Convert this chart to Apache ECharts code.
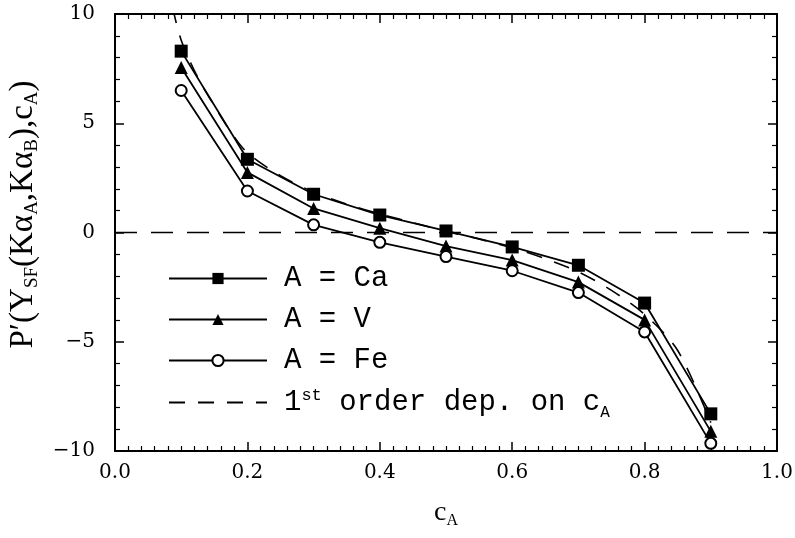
<!DOCTYPE html>
<html><head><meta charset="utf-8">
<script src="https://cdn.jsdelivr.net/npm/echarts@6/dist/echarts.min.js"></script>
<style>html,body{margin:0;padding:0;background:#fff}#c{width:795px;height:538px}</style>
</head><body><div id="c"></div>
<script>
var cA = [0.1, 0.2, 0.3, 0.4, 0.5, 0.6, 0.7, 0.8, 0.9];
var yCa = [8.3, 3.35, 1.75, 0.8, 0.07, -0.66, -1.5, -3.23, -8.3];
var yV  = [7.55, 2.75, 1.1, 0.2, -0.62, -1.26, -2.27, -4.0, -9.1];
var yFe = [6.5, 1.9, 0.35, -0.45, -1.1, -1.75, -2.75, -4.55, -9.65];
var dashX = [0.087, 0.1, 0.125, 0.15, 0.175, 0.2, 0.25, 0.3, 0.35, 0.4, 0.45, 0.5, 0.55, 0.6, 0.65, 0.7, 0.75, 0.8, 0.85, 0.9];
var dashY = [10.3, 8.8, 7.1, 5.8, 4.6, 3.65, 2.6, 1.85, 1.3, 0.85, 0.45, 0.05, -0.3, -0.7, -1.2, -1.8, -2.65, -3.75, -5.4, -8.7];
var xTicks = [0.0, 0.2, 0.4, 0.6, 0.8, 1.0];
var yTicks = [-10, -5, 0, 5, 10];
var names = ['A = Ca', 'A = V', 'A = Fe', '1st order dep. on cA'];

function pairs(xs, ys){ return xs.map(function(x,i){ return [x, ys[i]]; }); }

var chart = echarts.init(document.getElementById('c'), null, {renderer:'canvas'});
var axisCommon = {
  type:'value',
  axisLine:{show:true, onZero:false, lineStyle:{color:'#000', width:2}},
  axisTick:{show:true, inside:true, length:9, lineStyle:{color:'#000', width:1.5}},
  splitLine:{show:false},
  minorSplitLine:{show:false}
};
function mk(extra){ return Object.assign({}, JSON.parse(JSON.stringify(axisCommon)), extra); }

var labelFont = {fontFamily:'DejaVu Serif', fontSize:20, color:'#000'};
var serif = 'Liberation Serif';

chart.setOption({
  animation:false,
  backgroundColor:'#fff',
  grid:{left:115, right:18, top:14, bottom:87, containLabel:false, outerBoundsMode:'none'},
  xAxis:[
    mk({min:xTicks[0], max:xTicks[xTicks.length-1], interval:0.2, position:'bottom',
        minorTick:{show:true, splitNumber:10, length:5, lineStyle:{color:'#000', width:1.2}},
        axisLabel:Object.assign({margin:12, formatter:function(v){return v.toFixed(1);}}, labelFont),
        name:'c{sub|A}', nameLocation:'middle', nameGap:46,
        nameTextStyle:{fontFamily:serif, fontSize:28, color:'#000',
          rich:{sub:{fontFamily:serif, fontSize:16, padding:[16,0,0,0], color:'#000'}}}}),
    mk({min:0, max:1, interval:0.2, position:'top',
        minorTick:{show:true, splitNumber:10, length:5, lineStyle:{color:'#000', width:1.2}},
        axisLabel:{show:false}})
  ],
  yAxis:[
    mk({min:yTicks[0], max:yTicks[yTicks.length-1], interval:5, position:'left',
        minorTick:{show:true, splitNumber:5, length:5, lineStyle:{color:'#000', width:1.2}},
        axisLabel:Object.assign({margin:20, formatter:function(v){return String(v).replace('-', '\u2212');}}, labelFont),
        name:'P\u2032(Y{sub|SF}(K\u03b1{sub|A},K\u03b1{sub|B}),c{sub|A})', nameLocation:'middle', nameGap:73, nameRotate:90,
        nameTextStyle:{fontFamily:serif, fontSize:33, color:'#000', padding:[0,0,0,36],
          rich:{sub:{fontFamily:serif, fontSize:19, padding:[19,0,0,0], color:'#000'}}}}),
    mk({min:-10, max:10, interval:5, position:'right',
        minorTick:{show:true, splitNumber:5, length:5, lineStyle:{color:'#000', width:1.2}},
        axisLabel:{show:false}})
  ],
  legend:{
    show:true, orient:'vertical', left:163, top:259, itemWidth:98, itemHeight:14, itemGap:12,
    data:[names[0], names[1], names[2], {name:names[3], itemStyle:{opacity:0}}],
    formatter:function(n){
      if(n===names[3]) return '1{sup|st} order dep. on c{sub|A}';
      return n;
    },
    textStyle:{fontFamily:'Liberation Mono', fontSize:29, color:'#000', padding:[0,0,0,12],
      rich:{
        sup:{fontFamily:'Liberation Mono', fontSize:17, padding:[0,0,14,0], color:'#000'},
        sub:{fontFamily:'Liberation Mono', fontSize:16, padding:[20,0,0,0], color:'#000'}
      }}
  },
  series:[
    {name:names[0], type:'line', data:pairs(cA, yCa), symbol:'rect', symbolSize:13,
     lineStyle:{color:'#000', width:1.8}, itemStyle:{color:'#000'}},
    {name:names[1], type:'line', data:pairs(cA, yV), symbol:'triangle', symbolSize:13,
     lineStyle:{color:'#000', width:1.8}, itemStyle:{color:'#000'}},
    {name:names[2], type:'line', data:pairs(cA, yFe), symbol:'emptyCircle', symbolSize:11,
     lineStyle:{color:'#000', width:1.8}, itemStyle:{color:'#000', borderColor:'#000', borderWidth:1.6}},
    {name:names[3], type:'line', data:pairs(dashX, dashY), symbol:'none', smooth:0.3, clip:true,
     lineStyle:{color:'#000', width:1.6, type:[16,13]}, itemStyle:{color:'#000'}},
    {name:'zero', type:'line', data:[[xTicks[0],0],[xTicks[xTicks.length-1],0]], symbol:'none', silent:true,
     lineStyle:{color:'#000', width:1.6, type:[22,14]}}
  ]
});
</script></body></html>
